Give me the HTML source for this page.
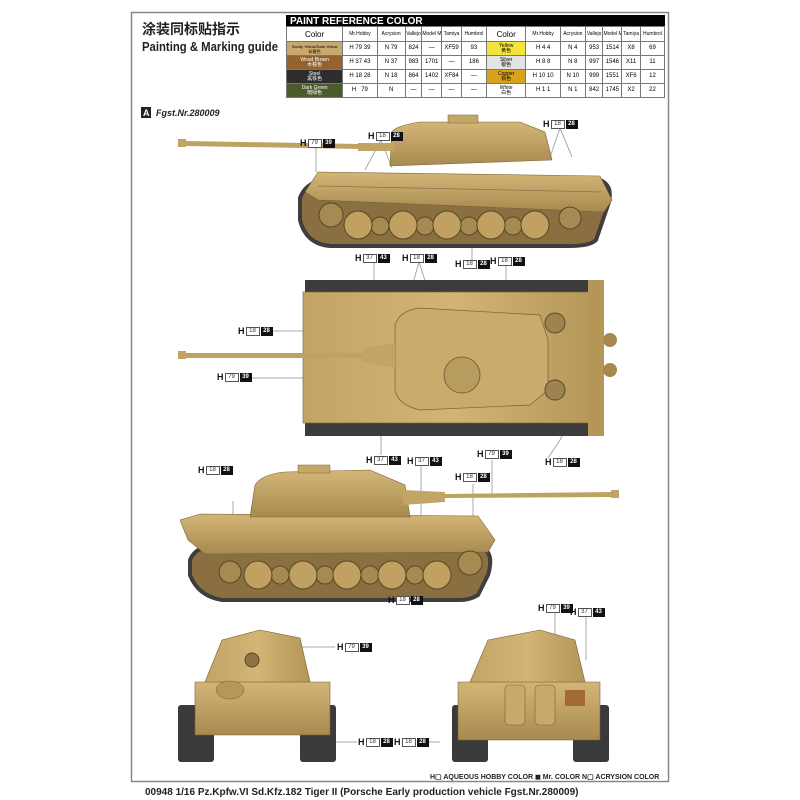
<!DOCTYPE html>
<html><head><meta charset="utf-8"><style>
body{margin:0;width:800px;height:800px;background:#fff;position:relative;overflow:hidden;font-family:"Liberation Sans","Noto Sans CJK SC",sans-serif}
svg{position:absolute;left:0;top:0}
.lb{position:absolute;font:bold 9px "Liberation Sans",sans-serif;height:9px;line-height:9px;white-space:nowrap;color:#111}
.lb i{font-style:normal;font-weight:normal;font-size:6px;display:inline-block;width:12px;height:7px;line-height:7px;border:1px solid #555;text-align:center;margin-left:1px;vertical-align:top;color:#333;background:#fff}
.lb b{font-size:6px;display:inline-block;width:12px;height:9px;line-height:9px;background:#111;color:#fff;text-align:center;vertical-align:top;margin-left:1px}
table{position:absolute;left:286px;top:26px;width:379px;table-layout:fixed;border-collapse:collapse;font-size:5px;text-align:center}
td{border:1px solid #777;padding:0;height:13px;line-height:5px;overflow:hidden;white-space:nowrap}
.hd td{height:14px;font-size:5px}
.hd td.c{font-size:8px}
.v td{font-size:6px}
</style></head><body>
<svg width="800" height="800" viewBox="0 0 800 800">
<rect x="131.5" y="12.5" width="537" height="769" fill="none" stroke="#888" stroke-width="1.5"/>
<rect x="286" y="15" width="379" height="11" fill="#000"/>
<text x="290" y="24" font-size="10" font-weight="bold" fill="#fff" font-family="Liberation Sans">PAINT  REFERENCE COLOR</text>
<text x="142" y="34" font-size="14" font-weight="bold" font-family="Noto Sans CJK SC" fill="#222">涂装同标贴指示</text>
<text x="142" y="51" font-size="13" font-weight="bold" font-family="Liberation Sans" fill="#222" textLength="136" lengthAdjust="spacingAndGlyphs">Painting &amp; Marking guide</text>
<rect x="141" y="107" width="10" height="11" fill="#222"/>
<text x="143" y="116" font-size="9" font-weight="bold" fill="#fff" font-family="Liberation Sans">A</text>
<text x="156" y="116" font-size="9" font-weight="bold" font-style="italic" fill="#222" font-family="Liberation Sans">Fgst.Nr.280009</text>

<defs>
<linearGradient id="sand" x1="0" y1="0" x2="0" y2="1"><stop offset="0" stop-color="#d3b677"/><stop offset="1" stop-color="#a88a50"/></linearGradient>
<linearGradient id="sand2" x1="0" y1="0" x2="1" y2="0"><stop offset="0" stop-color="#c2a464"/><stop offset=".5" stop-color="#d2b474"/><stop offset="1" stop-color="#b39556"/></linearGradient>
</defs>

<g stroke="#aaa" stroke-width="1" fill="none">
<line x1="316" y1="148" x2="316" y2="172"/>
<polyline points="365,170 381,140 392,168"/><polyline points="549,160 560,128 572,157"/>
<line x1="374" y1="262" x2="374" y2="292"/><polyline points="411,290 419,262 428,290"/><line x1="472" y1="268" x2="472" y2="246"/><line x1="506" y1="262" x2="506" y2="292"/>
<line x1="272" y1="331" x2="327" y2="331"/><line x1="244" y1="378" x2="307" y2="378"/>
<line x1="381" y1="455" x2="381" y2="436"/><line x1="421" y1="458" x2="421" y2="520"/><line x1="492" y1="460" x2="492" y2="497"/><polyline points="548,458 560,440 570,420"/><line x1="473" y1="484" x2="473" y2="525"/>
<line x1="233" y1="501" x2="233" y2="518"/>
<line x1="405" y1="600" x2="405" y2="585"/>
<line x1="301" y1="647" x2="335" y2="647"/><line x1="555" y1="612" x2="555" y2="638"/><line x1="586" y1="616" x2="586" y2="660"/>
<line x1="335" y1="742" x2="357" y2="742"/><line x1="421" y1="742" x2="440" y2="742"/>
</g>

<g>
<path d="M300,198 Q305,184 322,180 L600,180 Q614,186 608,205 L596,240 Q590,246 570,246 L330,246 Q306,244 300,220 Z" fill="#8a7040" stroke="#3e3e3e" stroke-width="4"/>
<path d="M305,192 L318,172 L600,176 L612,200 L604,212 L318,200 Z" fill="url(#sand)" stroke="#7a6234" stroke-width=".6"/>
<path d="M318,186 L602,192" stroke="#8a7448" stroke-width=".8"/>
<path d="M390,165 L392,132 Q395,126 420,122 L520,122 L545,132 L552,160 L390,166 Z" fill="url(#sand)" stroke="#7a6234" stroke-width=".6"/>
<rect x="448" y="115" width="30" height="8" fill="#c4a767" stroke="#7a6234" stroke-width=".5"/>
<rect x="358" y="143" width="36" height="8" fill="#c2a464"/>
<rect x="178" y="139" width="8" height="8" fill="#c2a464"/>
<path d="M186,141 L360,144 L360,149 L186,146 Z" fill="#bfa163"/>
<g fill="#a58a52" stroke="#5b4726" stroke-width="1">
<circle cx="331" cy="215" r="12"/><circle cx="570" cy="218" r="11"/>
<circle cx="380" cy="226" r="9"/><circle cx="425" cy="226" r="9"/><circle cx="469" cy="226" r="9"/><circle cx="513" cy="226" r="9"/>
<circle cx="358" cy="225" r="14" fill="#c0a162"/><circle cx="403" cy="225" r="14" fill="#c0a162"/><circle cx="447" cy="225" r="14" fill="#c0a162"/><circle cx="491" cy="225" r="14" fill="#c0a162"/><circle cx="535" cy="225" r="14" fill="#c0a162"/>
</g>
</g>

<g>
<rect x="305" y="280" width="283" height="12" fill="#3c3c3c"/>
<rect x="305" y="423" width="283" height="13" fill="#3c3c3c"/>
<rect x="303" y="292" width="300" height="131" fill="url(#sand2)" stroke="#7a6234" stroke-width=".6"/>
<rect x="588" y="280" width="16" height="156" fill="#b49657"/>
<path d="M395,325 Q400,310 420,308 L540,315 L548,340 L548,390 L530,405 L420,410 Q398,405 395,390 Z" fill="#c9ab6c" stroke="#7a6234" stroke-width=".7"/>
<circle cx="462" cy="375" r="18" fill="#b89b5e" stroke="#6d5530" stroke-width=".8"/>
<circle cx="555" cy="323" r="10" fill="#9d8350" stroke="#5c4828"/><circle cx="555" cy="390" r="10" fill="#9d8350" stroke="#5c4828"/>
<circle cx="610" cy="340" r="7" fill="#a68850"/><circle cx="610" cy="370" r="7" fill="#a68850"/>
<rect x="178" y="351" width="8" height="8" fill="#c2a464"/>
<path d="M186,353 L365,353 L365,358 L186,358 Z" fill="#bfa163"/>
<path d="M362,349 L395,343 L395,368 L362,361 Z" fill="#c2a464"/>
</g>

<g>
<path d="M190,560 Q195,548 210,546 L480,546 Q495,552 488,575 L478,595 Q470,600 460,600 L222,600 Q198,596 190,575 Z" fill="#8a7040" stroke="#3e3e3e" stroke-width="4"/>
<path d="M180,520 L200,514 L478,516 L495,540 L488,552 L205,554 L188,540 Z" fill="url(#sand)" stroke="#7a6234" stroke-width=".6"/>
<path d="M250,517 L255,485 Q262,474 285,472 L370,470 L405,485 L410,517 Z" fill="url(#sand)" stroke="#7a6234" stroke-width=".6"/>
<rect x="298" y="465" width="32" height="8" fill="#c4a767" stroke="#7a6234" stroke-width=".5"/>
<path d="M403,490 L445,492 L445,502 L403,505 Z" fill="#c2a464"/>
<path d="M445,494 L612,492 L612,497 L445,498 Z" fill="#bfa163"/>
<rect x="611" y="490" width="8" height="8" fill="#c2a464"/>
<g fill="#a58a52" stroke="#5b4726" stroke-width="1">
<circle cx="230" cy="572" r="11"/><circle cx="470" cy="563" r="12"/>
<circle cx="280" cy="575" r="9"/><circle cx="325" cy="575" r="9"/><circle cx="370" cy="575" r="9"/><circle cx="415" cy="575" r="9"/>
<circle cx="258" cy="575" r="14" fill="#c0a162"/><circle cx="303" cy="575" r="14" fill="#c0a162"/><circle cx="347" cy="575" r="14" fill="#c0a162"/><circle cx="392" cy="575" r="14" fill="#c0a162"/><circle cx="437" cy="575" r="14" fill="#c0a162"/>
</g>
</g>

<g>
<rect x="178" y="705" width="36" height="57" rx="3" fill="#3a3a3a"/>
<rect x="300" y="705" width="36" height="57" rx="3" fill="#3a3a3a"/>
<path d="M195,682 L330,682 L330,735 L195,735 Z" fill="url(#sand)" stroke="#7a6234" stroke-width=".6"/>
<path d="M205,682 L222,640 L260,630 L300,638 L310,682 Z" fill="url(#sand2)" stroke="#7a6234" stroke-width=".6"/>
<circle cx="252" cy="660" r="7" fill="#8e7444" stroke="#5b4726"/>
<ellipse cx="230" cy="690" rx="14" ry="9" fill="#b59758" stroke="#7a6234" stroke-width=".5"/>
</g>
<g>
<rect x="452" y="705" width="36" height="57" rx="3" fill="#3a3a3a"/>
<rect x="573" y="705" width="36" height="57" rx="3" fill="#3a3a3a"/>
<path d="M458,682 L600,682 L600,740 L458,740 Z" fill="url(#sand)" stroke="#7a6234" stroke-width=".6"/>
<path d="M470,682 L488,640 L540,630 L575,640 L585,682 Z" fill="url(#sand2)" stroke="#7a6234" stroke-width=".6"/>
<rect x="505" y="685" width="20" height="40" rx="4" fill="#c7aa6b" stroke="#7a6234" stroke-width=".6"/>
<rect x="535" y="685" width="20" height="40" rx="4" fill="#c7aa6b" stroke="#7a6234" stroke-width=".6"/>
<rect x="565" y="690" width="20" height="16" fill="#a36a38"/>
</g>

<text x="430" y="779" font-size="7" font-weight="bold" fill="#222" font-family="Liberation Sans">H▢ AQUEOUS HOBBY COLOR    ◼ Mr. COLOR    N▢ ACRYSION COLOR</text>
<text x="145" y="795" font-size="10" font-weight="bold" fill="#222" font-family="Liberation Sans">00948 1/16 Pz.Kpfw.VI Sd.Kfz.182 Tiger II (Porsche Early production vehicle Fgst.Nr.280009)</text>
</svg>

<table>
<colgroup><col style="width:54px"><col style="width:33px"><col style="width:27px"><col style="width:16px"><col style="width:19px"><col style="width:19px"><col style="width:24px"><col style="width:38px"><col style="width:33px"><col style="width:24px"><col style="width:17px"><col style="width:18px"><col style="width:18px"><col style="width:23px"></colgroup>
<tr class="hd"><td class="c">Color</td><td>Mr.Hobby</td><td>Acrysion</td><td>Vallejo</td><td>Model Master</td><td>Tamiya</td><td>Humbrol</td><td class="c">Color</td><td>Mr.Hobby</td><td>Acrysion</td><td>Vallejo</td><td>Model Master</td><td>Tamiya</td><td>Humbrol</td></tr>
<tr class="v"><td style="background:#c8a86c;font-size:4px">Sandy Yellow/Dark Yellow<br>砂黄色</td><td>H 79 39</td><td>N 79</td><td>824</td><td>—</td><td>XF59</td><td>93</td><td style="background:#f2e43a;font-size:5px">Yellow<br>黄色</td><td>H 4 4</td><td>N 4</td><td>953</td><td>1514</td><td>X8</td><td>69</td></tr>
<tr class="v"><td style="background:#93622e;color:#fff;font-size:5px">Wood Brown<br>木棕色</td><td>H 37 43</td><td>N 37</td><td>983</td><td>1701</td><td>—</td><td>186</td><td style="background:#e3e3e3;font-size:5px">Silver<br>银色</td><td>H 8 8</td><td>N 8</td><td>997</td><td>1546</td><td>X11</td><td>11</td></tr>
<tr class="v"><td style="background:#2d2d2d;color:#fff;font-size:5px">Steel<br>黑铁色</td><td>H 18 28</td><td>N 18</td><td>864</td><td>1402</td><td>XF84</td><td>—</td><td style="background:#d9a21c;font-size:5px">Copper<br>铜色</td><td>H 10 10</td><td>N 10</td><td>999</td><td>1551</td><td>XF6</td><td>12</td></tr>
<tr class="v"><td style="background:#4c5b2e;color:#fff;font-size:5px">Dark Green<br>暗绿色</td><td>H &nbsp; 79</td><td>N</td><td>—</td><td>—</td><td>—</td><td>—</td><td style="font-size:5px">White<br>白色</td><td>H 1 1</td><td>N 1</td><td>842</td><td>1745</td><td>X2</td><td>22</td></tr>
</table>

<div class="lb" style="left:300px;top:139px">H<i>79</i><b>39</b></div>
<div class="lb" style="left:368px;top:132px">H<i>18</i><b>28</b></div>
<div class="lb" style="left:543px;top:120px">H<i>18</i><b>28</b></div>
<div class="lb" style="left:355px;top:254px">H<i>37</i><b>43</b></div>
<div class="lb" style="left:402px;top:254px">H<i>18</i><b>28</b></div>
<div class="lb" style="left:455px;top:260px">H<i>18</i><b>28</b></div>
<div class="lb" style="left:490px;top:257px">H<i>18</i><b>28</b></div>
<div class="lb" style="left:238px;top:327px">H<i>18</i><b>28</b></div>
<div class="lb" style="left:217px;top:373px">H<i>79</i><b>39</b></div>
<div class="lb" style="left:366px;top:456px">H<i>37</i><b>43</b></div>
<div class="lb" style="left:407px;top:457px">H<i>37</i><b>43</b></div>
<div class="lb" style="left:477px;top:450px">H<i>79</i><b>39</b></div>
<div class="lb" style="left:455px;top:473px">H<i>18</i><b>28</b></div>
<div class="lb" style="left:545px;top:458px">H<i>18</i><b>28</b></div>
<div class="lb" style="left:198px;top:466px">H<i>18</i><b>28</b></div>
<div class="lb" style="left:388px;top:596px">H<i>18</i><b>28</b></div>
<div class="lb" style="left:337px;top:643px">H<i>79</i><b>39</b></div>
<div class="lb" style="left:538px;top:604px">H<i>79</i><b>39</b></div>
<div class="lb" style="left:570px;top:608px">H<i>37</i><b>43</b></div>
<div class="lb" style="left:358px;top:738px">H<i>18</i><b>28</b></div>
<div class="lb" style="left:394px;top:738px">H<i>18</i><b>28</b></div>
</body></html>
